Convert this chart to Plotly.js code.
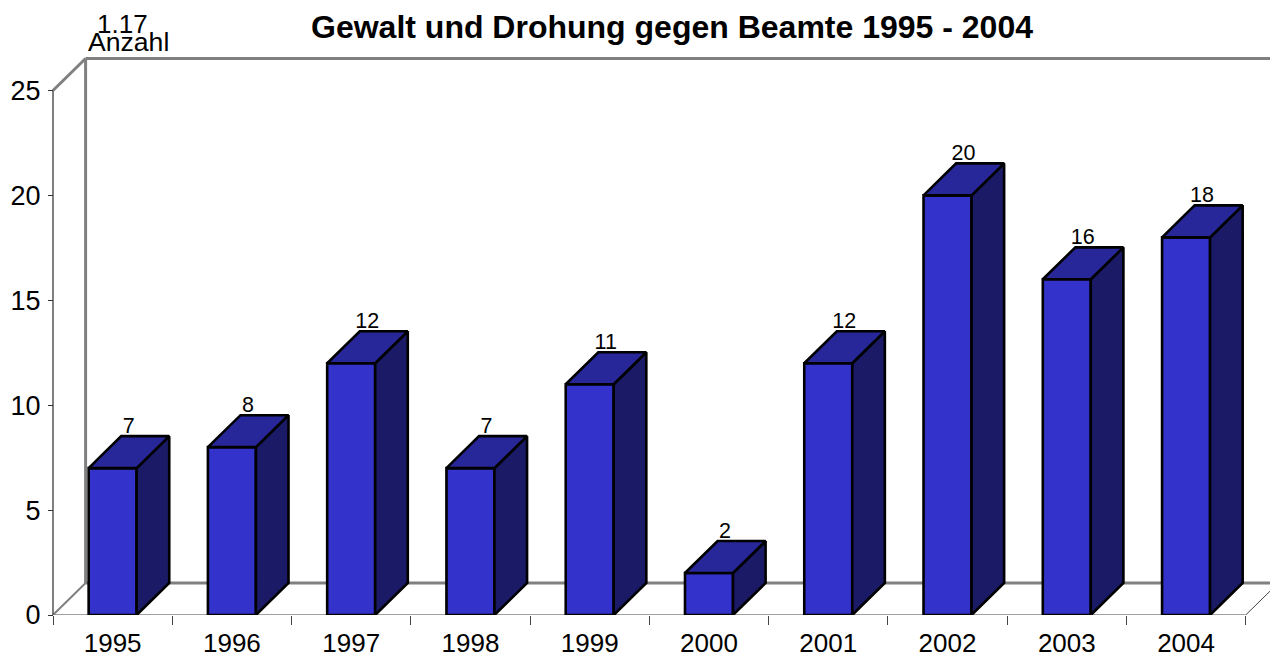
<!DOCTYPE html>
<html>
<head>
<meta charset="utf-8">
<script src="https://cdn.plot.ly/plotly-3.0.1.min.js"></script>
<style>html,body{margin:0;padding:0;background:#fff}#chart{width:1270px;height:658px}</style>
</head>
<body>
<div id="chart"></div>
<script>
const years = ["1995","1996","1997","1998","1999","2000","2001","2002","2003","2004"];
const counts = [7,8,12,7,11,2,12,20,16,18];
const yTicks = [0,5,10,15,20,25];
const titleText = "Gewalt und Drohung gegen Beamte 1995 - 2004";
const cornerLabel = "1.17";
const unitLabel = "Anzahl";

const W = 1270, H = 658, ML = 40, MT = 50, MB = 42.5;
const catPx = 119.27, unitPx = 21, x0Px = 53;
const depthX = 32.6 / catPx, depthY = 32 / unitPx, barW = 48 / catPx;
const labelDrop = 2 / unitPx, labelShift = 0.3 / catPx;
const fontFam = '"Liberation Sans", Arial, sans-serif';
const xs = years.map((_, i) => i);
const xMin = -0.5 - (x0Px - ML) / catPx;
const xMax = xMin + (W - ML) / catPx;
const yMax = (H - MB - MT) / unitPx;
const xEdge0 = -0.5, xEdge1 = years.length - 0.5, yTop = yTicks[yTicks.length - 1];

const FRONT = "#3333CC", TOPC = "#272799", SIDE = "#1A1A66", GREY = "#808080";
const edge = {color: "#000", width: 2.6};

const traces = [{
  type: "bar", x: xs, y: counts, width: barW, cliponaxis: false,
  marker: {color: FRONT, line: {color: "#000", width: 2.6}},
  hoverinfo: "x+y", showlegend: false
}];
xs.forEach((x, i) => {
  const v = counts[i], l = x - barW / 2, r = x + barW / 2;
  traces.push({
    type: "scatter", mode: "lines", fill: "toself", fillcolor: SIDE, line: edge, cliponaxis: false,
    x: [r, r + depthX, r + depthX, r, r], y: [0, depthY, v + depthY, v, 0],
    hoverinfo: "skip", showlegend: false
  });
  traces.push({
    type: "scatter", mode: "lines", fill: "toself", fillcolor: TOPC, line: edge, cliponaxis: false,
    x: [l, l + depthX, r + depthX, r, l], y: [v, v + depthY, v + depthY, v, v],
    hoverinfo: "skip", showlegend: false
  });
});
traces.push({
  type: "scatter", mode: "text", cliponaxis: false,
  x: xs.map(x => x + depthX / 2 - labelShift), y: counts.map(v => v + depthY - labelDrop),
  text: counts.map(String), textposition: "top center",
  textfont: {family: fontFam, size: 21.5, color: "#000"},
  hoverinfo: "skip", showlegend: false
});

const seg = (x0, y0, x1, y1, color, width) => ({
  type: "line", layer: "below", xref: "x", yref: "y", x0, y0, x1, y1, line: {color, width}
});
const shapes = [
  seg(xEdge0 + depthX, depthY, xEdge0 + depthX, yTop + depthY, GREY, 3),
  seg(xEdge0 + depthX, yTop + depthY, xMax, yTop + depthY, GREY, 3),
  seg(xEdge0 + depthX, depthY, xMax, depthY, GREY, 3),
  seg(xEdge0, yTop, xEdge0 + depthX, yTop + depthY, GREY, 3),
  seg(xEdge0, 0, xEdge0 + depthX, depthY, GREY, 2),
  seg(xEdge1, 0, xEdge1 + depthX, depthY, "#444", 1),
  seg(xEdge0, 0, xEdge1, 0, GREY, 1.5),
  seg(xEdge0, 0, xEdge0, yTop, "#555", 1.5)
];

const boundaries = years.map((_, i) => i - 0.5).concat([xEdge1]);

const layout = {
  width: W, height: H, paper_bgcolor: "#fff", plot_bgcolor: "#fff",
  margin: {l: ML, r: 0, t: MT, b: MB, pad: 0},
  showlegend: false, barmode: "overlay",
  title: {text: "<b>" + titleText + "</b>", x: 672 / W, xanchor: "center", y: 1 - 27 / H, yanchor: "middle",
          font: {family: fontFam, size: 32, color: "#000"}},
  xaxis: {
    range: [xMin, xMax], tickmode: "array", tickvals: xs, ticktext: years,
    ticks: "", showgrid: false, zeroline: false, showline: false, ticklabelstandoff: 10,
    tickfont: {family: fontFam, size: 26, color: "#000"},
    minor: {tickmode: "array", tickvals: boundaries, ticks: "outside", ticklen: 9, tickwidth: 1, tickcolor: "#444", showgrid: false}
  },
  yaxis: {
    range: [0, yMax], tickmode: "array", tickvals: yTicks, ticktext: yTicks.map(String),
    anchor: "free", position: (x0Px - ML) / (W - ML), side: "left",
    ticks: "outside", ticklen: 5, tickwidth: 1, tickcolor: "#333",
    showgrid: false, zeroline: false, showline: false, ticklabelstandoff: 2,
    tickfont: {family: fontFam, size: 27, color: "#000"}
  },
  shapes,
  annotations: [
    {text: cornerLabel, xref: "paper", yref: "paper", x: (122.5 - ML) / (W - ML), y: (H - MB - 24) / (H - MB - MT), xanchor: "center", yanchor: "middle",
     showarrow: false, font: {family: fontFam, size: 26, color: "#000"}},
    {text: unitLabel, xref: "paper", yref: "paper", x: (128.5 - ML) / (W - ML), y: (H - MB - 42) / (H - MB - MT), xanchor: "center", yanchor: "middle",
     showarrow: false, font: {family: fontFam, size: 26.6, color: "#000"}}
  ]
};
Plotly.newPlot("chart", traces, layout, {displayModeBar: false, staticPlot: true});
</script>
</body>
</html>
